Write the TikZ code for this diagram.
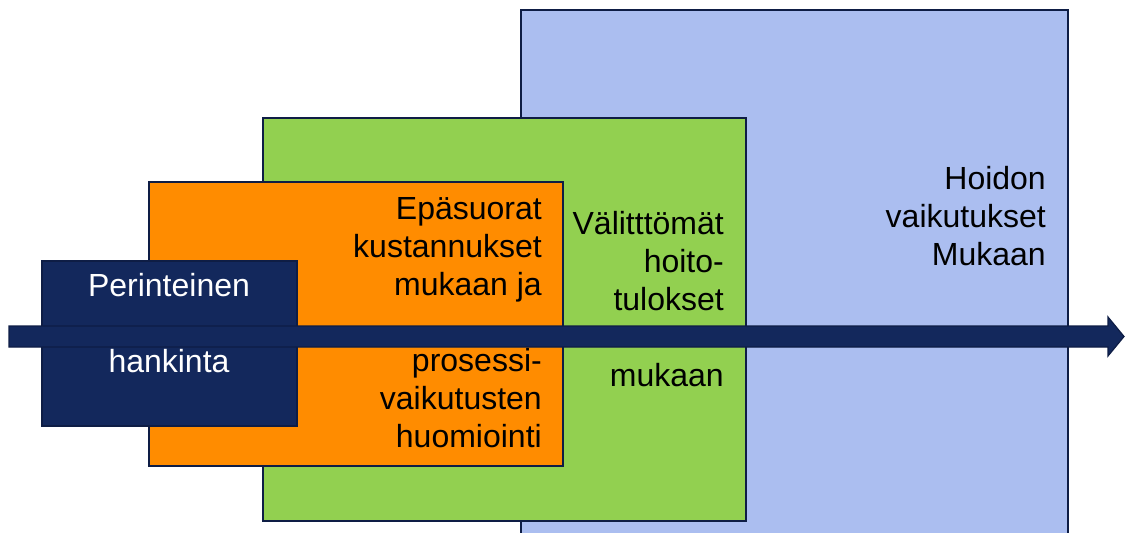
\documentclass[tikz,border=0pt]{standalone}
\usepackage{fontspec}
\setmainfont{Liberation Sans}
\definecolor{careblue}{HTML}{ABBEF0}
\definecolor{caregreen}{HTML}{92D050}
\definecolor{costorange}{HTML}{FF8C00}
\definecolor{basenavy}{HTML}{13285C}
\definecolor{edgenavy}{HTML}{0E1D45}
\begin{document}
\begin{tikzpicture}[x=1pt,y=-1pt,
  layerbox/.style={draw=edgenavy, line width=1.8pt, anchor=north west, inner sep=0pt},
  boxtext/.style={inner sep=0pt, font=\fontsize{32}{38}\selectfont, align=right, anchor=north east},
]
\useasboundingbox (0,0) rectangle (1125,533);
\clip (0,0) rectangle (1125,533);

% nested cost layers, widest scope at the back
\node[layerbox, fill=careblue, minimum width=547pt, minimum height=560pt] (care) at (520,9) {};
\node[layerbox, fill=caregreen, minimum width=483pt, minimum height=403pt] (direct) at (262,117) {};
\node[layerbox, fill=costorange, minimum width=414pt, minimum height=284pt] (indirect) at (148,181) {};
\node[layerbox, fill=basenavy, minimum width=255pt, minimum height=165pt] (base) at (41,260) {};

% labels
\node[boxtext] (careText) at (1046,166) {Hoidon\\vaikutukset\\Mukaan};
\node[boxtext] (directText) at (724,211.5) {Välitttömät\\hoito-\\tulokset\\\mbox{}\\mukaan};
\node[boxtext] (indirectText) at (542,197) {Epäsuorat\\kustannukset\\mukaan ja\\\mbox{}\\prosessi-\\vaikutusten\\huomiointi};
\node[boxtext, text=white, align=center, anchor=north] (baseText) at (169,273.5) {Perinteinen\\\mbox{}\\hankinta};

% horizontal block arrow across all layers
\coordinate (tailtop) at (9,326);
\coordinate (tailbot) at (9,347);
\coordinate (tip) at (1124,336.5);
\draw[edgenavy, fill=basenavy, line width=1.2pt, line join=miter]
  (tailtop) -- (1108,326) -- (1108,317) -- (tip)
  -- (1108,356) -- (1108,347) -- (tailbot) -- cycle;
\end{tikzpicture}
\end{document}
